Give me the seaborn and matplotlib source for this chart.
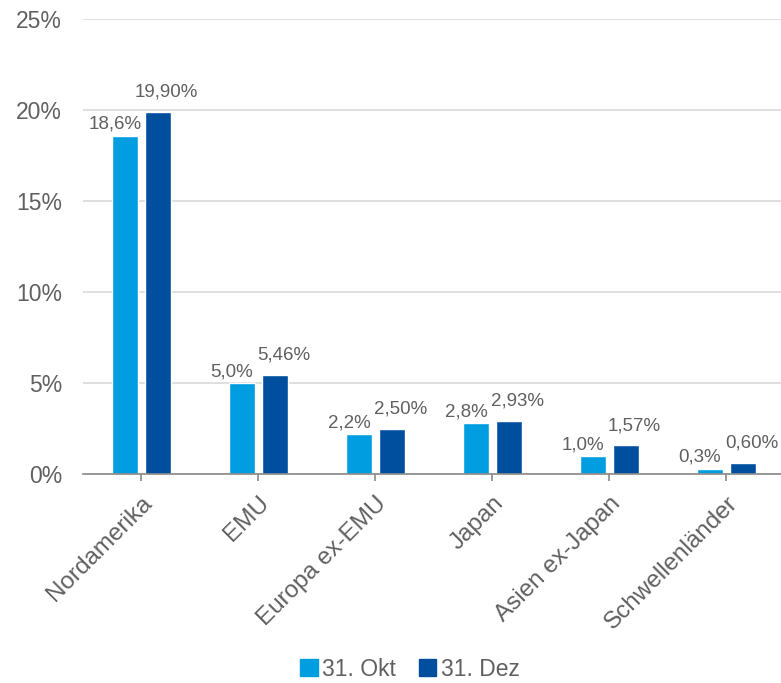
import matplotlib
matplotlib.use("Agg")
import matplotlib.pyplot as plt
import pandas as pd
import seaborn as sns

# Chart values
regions = ["Nordamerika", "EMU", "Europa ex-EMU", "Japan", "Asien ex-Japan", "Schwellenländer"]
series = ["31. Okt", "31. Dez"]
okt_values = [18.6, 5.0, 2.2, 2.8, 1.0, 0.3]
dez_values = [19.90, 5.46, 2.50, 2.93, 1.57, 0.60]
okt_labels = ["18,6%", "5,0%", "2,2%", "2,8%", "1,0%", "0,3%"]
dez_labels = ["19,90%", "5,46%", "2,50%", "2,93%", "1,57%", "0,60%"]
y_ticks = [0, 5, 10, 15, 20, 25]

colors = ["#009EE0", "#004F9F"]
text_color = "#606060"

if __name__ == "__main__":
    sns.set_style("white")
    plt.rcParams["font.family"] = ["Liberation Sans", "DejaVu Sans"]

    df = pd.DataFrame({
        "region": regions * 2,
        "series": [series[0]] * len(regions) + [series[1]] * len(regions),
        "value": okt_values + dez_values,
    })

    fig = plt.figure(figsize=(7.81, 6.83), dpi=100)
    ax = fig.add_axes([0.106, 0.306, 0.899, 0.666])

    sns.barplot(
        data=df, x="region", y="value", hue="series", order=regions,
        hue_order=series, palette=colors, width=0.57, gap=0.22,
        saturation=1, ax=ax, legend=True,
    )

    ax.set_ylim(0, 25)
    ax.set_xlim(-0.5, 5.5)
    ax.set_yticks(y_ticks)
    ax.set_yticklabels([f"{t}%" for t in y_ticks])
    ax.yaxis.grid(True, color="#D9D9D9", linewidth=1.2)
    ax.set_axisbelow(True)
    for side in ["top", "right", "left"]:
        ax.spines[side].set_visible(False)
    ax.spines["bottom"].set_color("#898989")
    ax.spines["bottom"].set_linewidth(1.2)
    ax.set_xlabel("")
    ax.set_ylabel("")
    ax.tick_params(axis="y", length=0, pad=15, labelsize=16.5, labelcolor=text_color)
    ax.tick_params(axis="x", bottom=True, length=5, width=1.2, color="#898989",
                   labelsize=17.5, labelcolor=text_color, pad=8)
    for lbl in ax.get_xticklabels():
        lbl.set_rotation(45)
        lbl.set_ha("right")
        lbl.set_rotation_mode("anchor")

    # data labels
    for container, labels, dx, dy in zip(ax.containers, [okt_labels, dez_labels], [-7, 6], [2, 8]):
        for bar, text in zip(container, labels):
            ax.annotate(
                text,
                (bar.get_x() + bar.get_width() / 2, bar.get_height()),
                xytext=(dx, dy), textcoords="offset points",
                ha="center", va="bottom", fontsize=13.5, color=text_color,
            )

    ax.get_legend().remove()
    handles = [plt.Rectangle((0, 0), 1, 1, color=c) for c in colors]
    fig.legend(
        handles, series, loc="center", bbox_to_anchor=(0.525, 0.02), ncol=2,
        frameon=False, fontsize=16.5, labelcolor=text_color, handlelength=0.75,
        handleheight=0.75, handletextpad=0.2, columnspacing=1.0,
    )

    fig.savefig("out.png", dpi=100)
